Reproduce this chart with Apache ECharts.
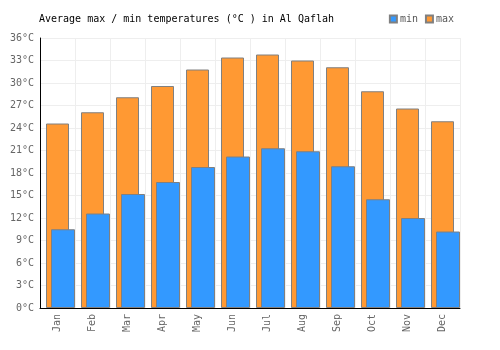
<!DOCTYPE html>
<html>
<head>
<meta charset="utf-8">
<script src="https://cdn.jsdelivr.net/npm/echarts@6/dist/echarts.min.js"></script>
<style>html,body{margin:0;padding:0;background:#fff}#c{width:500px;height:350px}</style>
</head>
<body>
<div id="c"></div>
<script>
var months = ['Jan','Feb','Mar','Apr','May','Jun','Jul','Aug','Sep','Oct','Nov','Dec'];
var maxTemps = [24.6, 26.1, 28.1, 29.6, 31.8, 33.4, 33.8, 33.0, 32.1, 28.9, 26.6, 24.9];
var minTemps = [10.5, 12.6, 15.2, 16.8, 18.8, 20.2, 21.3, 20.9, 18.9, 14.5, 12.0, 10.2];
var spacer = months.map(function(){ return '-'; });

var FONT = 'DejaVu Sans Mono';
var chart = echarts.init(document.getElementById('c'), null, {renderer: 'canvas'});
chart.setOption({
  animation: false,
  title: {
    text: 'Average max / min temperatures (°C ) in Al Qaflah',
    left: 39, top: 14, padding: 0,
    textStyle: {fontFamily: FONT, fontSize: 10, fontWeight: 'normal', color: '#000'}
  },
  legend: {
    data: ['min', 'max'],
    right: 46, top: 14, padding: 0,
    itemWidth: 7, itemHeight: 7, itemGap: 7,
    icon: 'rect',
    textStyle: {fontFamily: FONT, fontSize: 10, color: '#555', padding: [0, 0, 0, -2]}
  },
  grid: {left: 40, right: 40, top: 38, bottom: 42, containLabel: false},
  xAxis: [{
    type: 'category', data: months,
    axisLine: {show: true, lineStyle: {color: '#000', width: 1}},
    axisTick: {show: false},
    axisLabel: {rotate: 90, fontFamily: FONT, fontSize: 10, color: '#666', margin: 6},
    splitLine: {show: true, lineStyle: {color: '#eeeeee'}}
  }, {
    type: 'category', data: months, show: false
  }],
  yAxis: {
    type: 'value', min: 0, max: 36, interval: 3,
    axisLine: {show: true, lineStyle: {color: '#000', width: 1}},
    axisTick: {show: false},
    axisLabel: {formatter: '{value}°C', fontFamily: FONT, fontSize: 10, color: '#666', margin: 6},
    splitLine: {show: true, lineStyle: {color: '#eeeeee'}}
  },
  series: [{
    name: 'max', type: 'bar', xAxisIndex: 0, data: maxTemps, barWidth: 23,
    itemStyle: {color: '#FF9933', borderColor: '#808080', borderWidth: 1}
  }, {
    name: 'spacer', type: 'bar', xAxisIndex: 1, data: spacer, barWidth: 11, barGap: 0,
    itemStyle: {opacity: 0}, silent: true
  }, {
    name: 'min', type: 'bar', xAxisIndex: 1, data: minTemps, barWidth: 24, barGap: 0,
    itemStyle: {color: '#3399FF', borderColor: '#808080', borderWidth: 1}
  }]
});
</script>
</body>
</html>
